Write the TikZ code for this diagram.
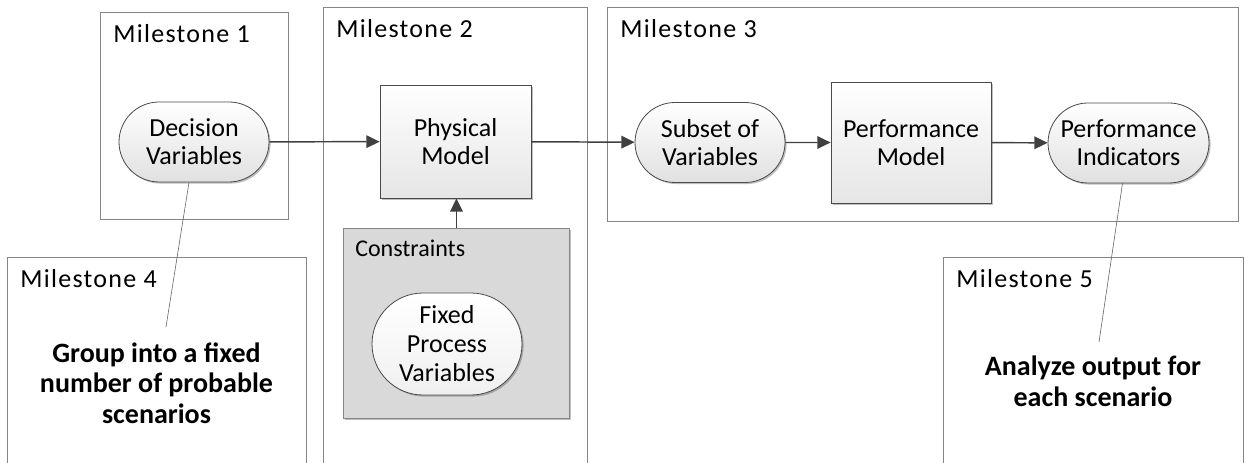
\documentclass[tikz,border=0pt]{standalone}
\usepackage{fontspec}
\setmainfont{Carlito}
\newfontfamily\msfont[LetterSpace=5]{Carlito}
\usetikzlibrary{shapes.misc,arrows.meta,shadows}
\definecolor{boxline}{HTML}{858585}
\definecolor{nodeline}{HTML}{4A4A4A}
\definecolor{arrowc}{HTML}{404040}
\definecolor{consfill}{HTML}{D9D9D9}
\tikzset{
  msbox/.style={draw=boxline, line width=0.7pt, fill=white, rectangle, inner sep=0pt, anchor=north west},
  mslabel/.style={font=\msfont\fontsize{19.5pt}{21pt}\selectfont, inner sep=0pt, anchor=base west},
  shadowed/.style={drop shadow={shadow xshift=1.2pt, shadow yshift=-1.2pt, opacity=0.25, fill=black}},
  pill/.style={rounded rectangle, draw=nodeline, line width=0.6pt, top color=white, bottom color=black!12,
    inner sep=0pt, align=center, font=\fontsize{19.5pt}{21pt}\selectfont, shadowed},
  block/.style={rectangle, draw=nodeline, line width=0.6pt, top color=white, bottom color=black!10,
    inner sep=0pt, align=center, font=\fontsize{19.5pt}{21pt}\selectfont, shadowed},
  arr/.style={draw=arrowc, line width=1.1pt, -{Triangle[length=10pt,width=9.5pt]}},
  callout/.style={draw=black!60, line width=0.45pt},
  boldtext/.style={font=\bfseries\fontsize{21pt}{23pt}\selectfont, align=center, inner sep=0pt}
}
\begin{document}
\begin{tikzpicture}[x=0.75pt,y=-0.75pt]
\useasboundingbox (0,0) rectangle (1246,463);
\clip (0,0) rectangle (1246,463);
\fill[white] (0,0) rectangle (1246,463);

% milestone containers
\node[msbox, minimum width=141pt, minimum height=155.25pt] (m1) at (100,12) {};
\node[msbox, minimum width=198pt, minimum height=354.75pt] (m2) at (323,7) {};
\node[msbox, minimum width=473.25pt, minimum height=160.5pt] (m3) at (607,7) {};
\node[msbox, minimum width=224.25pt, minimum height=167.25pt] (m4) at (7,257) {};
\node[msbox, minimum width=225pt, minimum height=167.25pt] (m5) at (943,257) {};

\node[mslabel] (m1l) at ([xshift=9.75pt,yshift=-23.25pt]m1.north west) {Milestone 1};
\node[mslabel] (m2l) at ([xshift=9.75pt,yshift=-23.25pt]m2.north west) {Milestone 2};
\node[mslabel] (m3l) at ([xshift=9.75pt,yshift=-23.25pt]m3.north west) {Milestone 3};
\node[mslabel] (m4l) at ([xshift=9.75pt,yshift=-23.25pt]m4.north west) {Milestone 4};
\node[mslabel] (m5l) at ([xshift=9.75pt,yshift=-23.25pt]m5.north west) {Milestone 5};

% constraints group
\node[msbox, draw=boxline, fill=consfill, minimum width=169.5pt, minimum height=142.5pt, shadowed] (cons) at (343,228) {};
\node[inner sep=0pt, anchor=base west, font=\fontsize{18pt}{19pt}\selectfont] (consl) at ([xshift=9pt,yshift=-21.75pt]cons.north west) {Constraints};

% process nodes
\node[pill, minimum width=112.5pt, minimum height=60pt] (dec) at (194,142) {Decision\\Variables};
\node[block, minimum width=113.25pt, minimum height=84.75pt] (phys) at (455.5,141.5) {Physical\\Model};
\node[pill, minimum width=112.5pt, minimum height=60pt] (sub) at (710,142.5) {Subset of\\Variables};
\node[block, minimum width=120pt, minimum height=90.75pt] (pm) at (911,142.5) {Performance\\Model};
\node[pill, minimum width=120.75pt, minimum height=60pt] (pi) at (1128.5,143) {Performance\\Indicators};
\node[pill, top color=white, bottom color=black!6, minimum width=112.5pt, minimum height=76.5pt,
      font=\fontsize{19.5pt}{21.75pt}\selectfont] (fix) at (447,344) {Fixed\\Process\\Variables};

% connectors
\draw[arr] (dec) -- (phys);
\draw[arr] (phys) -- (sub);
\draw[arr] (sub) -- (pm);
\draw[arr] (pm) -- (pi);
\draw[arr] (cons.north) -- (cons.north |- phys.south);

% callouts
\coordinate (c4) at (166,327);
\coordinate (c5) at (1099,342);
\draw[callout] ([xshift=-3.75pt]dec.south) -- (c4);
\draw[callout] ([xshift=-4.5pt]pi.south) -- (c5);

\node[boldtext] (t4) at (156.5,383) {Group into a fixed\\number of probable\\scenarios};
\node[boldtext] (t5) at (1093,381) {Analyze output for\\each scenario};
\end{tikzpicture}
\end{document}
